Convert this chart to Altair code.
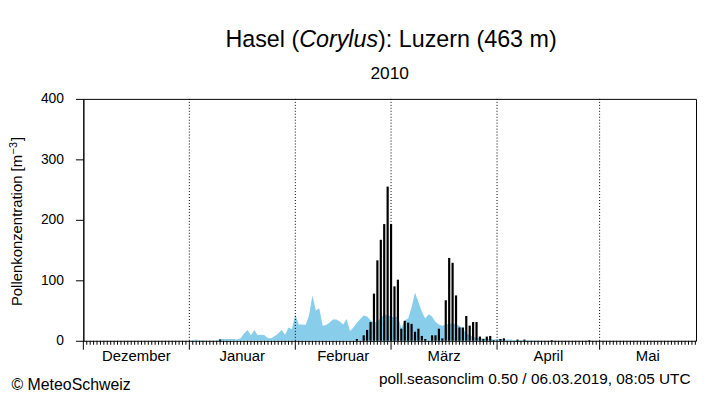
import altair as alt
import pandas as pd

FONT = "Liberation Sans"

# Month structure (day 0 = 1 December 2009)
month_names = ["Dezember", "Januar", "Februar", "März", "April", "Mai"]
month_starts = [0, 31, 62, 90, 121, 151]
boundary_days = [31, 62, 90, 121, 151]
label_pos = [15.5, 46.5, 76, 105.5, 136, 165.1]
x_end = 179.2
y_ticks = [0, 100, 200, 300, 400]

# Climatology (blue area), daily values
clim_dez = [0, 0, 0, 0, 0, 0, 0, 0, 0, 0, 0, 0, 0, 0, 0, 0, 0, 0, 0, 0,
            0, 0, 0, 0, 0, 0, 0, 0, 0, 0, 0]
clim_jan = [0, 1, 2, 1, 1, 0, 0, 0, 1, 3, 3, 3, 3, 3, 2, 4, 12, 18, 9, 18,
            9, 10, 9, 4, 4, 8, 12, 18, 10, 22, 19]
clim_feb = [44, 27, 27, 26, 42, 75, 50, 54, 25, 26, 30, 35, 35, 32, 27, 36,
            16, 22, 30, 36, 42, 40, 34, 30, 32, 38, 43, 42]
clim_mar = [40, 38, 41, 21, 34, 37, 55, 80, 64, 48, 37, 44, 40, 31, 27, 25,
            27, 28, 29, 27, 25, 20, 12, 9, 7, 5, 4, 4, 3, 3, 2]
clim_apr = [3, 3, 2, 2, 2, 1, 1, 1, 1, 1, 1, 1, 1, 0, 0, 0, 0, 0, 0, 0,
            0, 0, 0, 0, 0, 0, 0, 0, 0, 0]
clim_mai = [0, 0, 0, 0, 0, 0, 0, 0, 0, 0, 0, 0, 0, 0, 0, 0, 0, 0, 0, 0,
            0, 0, 0, 0, 0, 0, 0, 0, 0]

# Measured pollen 2010 (black bars), daily values
pollen_dez = [0, 0, 0, 0, 0, 0, 0, 0, 0, 0, 0, 0, 0, 0, 0, 0, 0, 0, 0, 0,
              0, 0, 0, 0, 0, 0, 0, 0, 0, 0, 0]
pollen_jan = [0, 0, 0, 0, 0, 0, 0, 0, 0, 2, 0, 0, 0, 0, 0, 0, 0, 0, 0, 0,
              0, 0, 0, 0, 0, 0, 0, 0, 0, 0, 0]
pollen_feb = [0, 0, 0, 0, 0, 0, 0, 0, 0, 0, 0, 0, 0, 0, 0, 0, 0, 0, 3, 0,
              9, 18, 31, 78, 133, 167, 193, 255]
pollen_mar = [193, 90, 101, 20, 33, 30, 28, 15, 20, 8, 3, 0, 9, 9, 20, 4,
              67, 137, 129, 75, 22, 22, 41, 25, 31, 31, 7, 3, 7, 8, 1]
pollen_apr = [0, 3, 4, 0, 0, 0, 2, 0, 2, 0, 0, 0, 0, 0, 0, 0, 1, 0, 0, 0,
              0, 0, 0, 0, 0, 0, 0, 1, 0, 0]
pollen_mai = [0, 0, 0, 0, 0, 0, 0, 0, 0, 0, 0, 0, 0, 0, 0, 0, 0, 0, 0, 0,
              0, 0, 0, 0, 0, 0, 0, 0, 0]

clim = clim_dez + clim_jan + clim_feb + clim_mar + clim_apr + clim_mai
pollen = pollen_dez + pollen_jan + pollen_feb + pollen_mar + pollen_apr + pollen_mai
days = list(range(len(clim)))

df = pd.DataFrame({"day": days, "clim": clim, "pollen": pollen})
df_bars = df[df["pollen"] > 0]
df_rules = pd.DataFrame({"day": boundary_days})
df_minor = pd.DataFrame({"day": [d for d in days if d not in month_starts]})
df_major = pd.DataFrame({"day": month_starts})
df_months = pd.DataFrame({"pos": label_pos, "name": month_names})

W, H = 618, 244

xscale = alt.Scale(domain=[0, x_end], nice=False, zero=False, padding=0)
yscale = alt.Scale(domain=[0, 400], nice=False, padding=0)

y_axis = alt.Axis(
    values=y_ticks, title=None, grid=False,
    labelFont=FONT, labelFontSize=14, labelColor="black", labelPadding=12,
    tickColor="black", tickSize=8, domainColor="black",
)

area = alt.Chart(df).mark_area(color="#88CDEA", interpolate="linear").encode(
    x=alt.X("day:Q", scale=xscale, axis=None),
    y=alt.Y("clim:Q", scale=yscale, axis=y_axis),
)
bars = alt.Chart(df_bars).mark_bar(color="black", size=2.2).encode(
    x=alt.X("day:Q", scale=xscale),
    y=alt.Y("pollen:Q", scale=yscale),
)
rules = alt.Chart(df_rules).mark_rule(color="black", strokeDash=[1, 2], strokeWidth=1).encode(
    x=alt.X("day:Q", scale=xscale),
)
minor_ticks = alt.Chart(df_minor).mark_rule(color="black", strokeWidth=1).encode(
    x=alt.X("day:Q", scale=xscale),
    y=alt.value(H), y2=alt.value(H + 4),
)
major_ticks = alt.Chart(df_major).mark_rule(color="black", strokeWidth=1).encode(
    x=alt.X("day:Q", scale=xscale),
    y=alt.value(H), y2=alt.value(H + 9),
)
month_labels = alt.Chart(df_months).mark_text(
    font=FONT, fontSize=15, color="black", baseline="alphabetic", align="center",
).encode(
    x=alt.X("pos:Q", scale=xscale),
    y=alt.value(H + 20),
    text="name:N",
)


def label(text, x, y, size, align="center", style="normal", angle=0, baseline="alphabetic"):
    return alt.Chart(pd.DataFrame({"t": [text]})).mark_text(
        font=FONT, fontSize=size, fontStyle=style, align=align, baseline=baseline,
        angle=angle, color="black",
    ).encode(x=alt.value(x), y=alt.value(y), text="t:N")


t1 = label("Hasel (", 217.7, -52, 23.5, align="right")
t2 = label("Corylus", 257.5, -52, 23.5, style="italic")
t3 = label("): Luzern (463 m)", 297.3, -52, 23.5, align="left")
sub = label("2010", 309, -20, 17.5)
ytitle1 = label("Pollenkonzentration [m", -66.5, 209, 15, align="left", angle=270, baseline="middle")
ytitle2 = label("−3", -70, 56, 11, align="left", angle=270, baseline="middle")
ytitle3 = label("]", -66.5, 42.5, 15, align="left", angle=270, baseline="middle")
foot1 = label("© MeteoSchweiz", -72.5, 293.5, 16, align="left")
foot2 = label("poll.seasonclim 0.50 / 06.03.2019, 08:05 UTC", 612.5, 288, 15.5, align="right")

chart = alt.layer(
    area, bars, rules, minor_ticks, major_ticks, month_labels,
    t1, t2, t3, sub, ytitle1, ytitle2, ytitle3, foot1, foot2,
).properties(
    width=W, height=H,
    padding={"left": 76, "top": 90, "right": 4, "bottom": 52},
    autosize=alt.AutoSizeParams(type="none"),
    background="white",
).configure_view(stroke="black", strokeWidth=1)

chart.save("out.html", embed_options={"renderer": "svg", "actions": False})
